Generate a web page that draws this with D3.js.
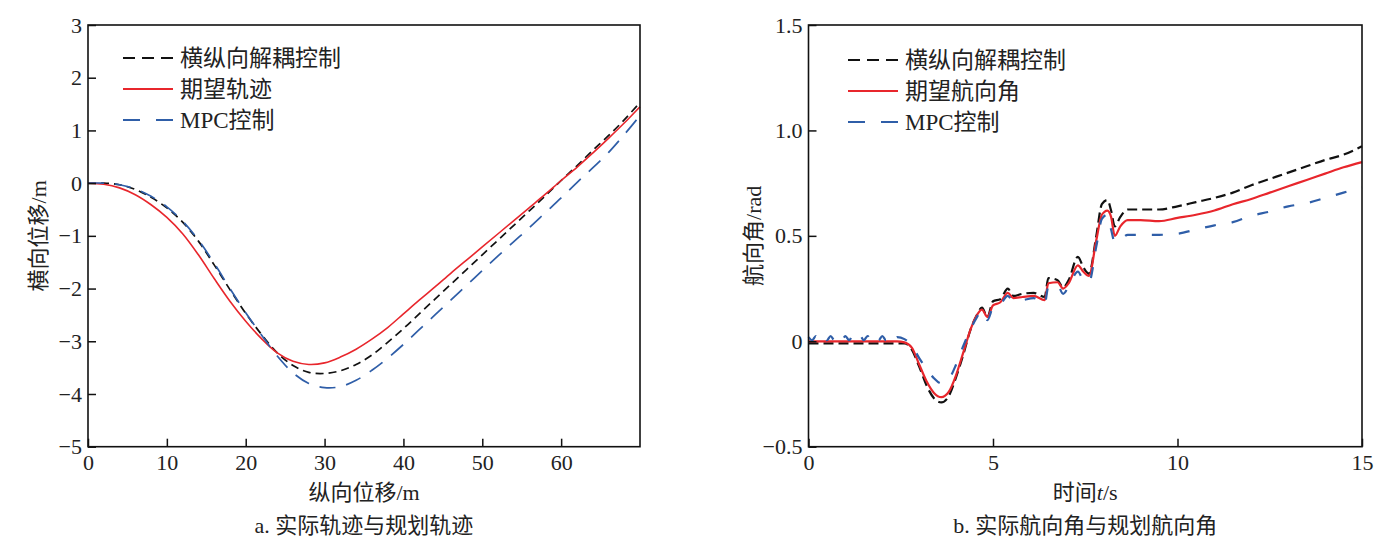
<!DOCTYPE html>
<html lang="zh">
<head>
<meta charset="UTF-8">
<title>轨迹与航向角</title>
<script src="https://d3js.org/d3.v7.min.js"></script>
<style>
    body {margin: 0; background: #fff;}
    text {
        font-family: "Liberation Serif", "Noto Sans CJK SC", serif;
        fill: #222;
    }
</style>
</head>
<body>
<script>
    const width = 1386;
    const height = 546;

    // ---- panel a: lateral vs longitudinal displacement ----
    const trackX = [0, 2, 4, 6, 8, 10, 12, 14, 16, 18, 20, 22, 24, 26, 28, 30, 32, 34,
                    36, 38, 40, 42, 44, 46, 48, 50, 52, 54, 56, 58, 60, 62, 64, 66, 68, 70];
    const trackDecoupled = [0, 0, -0.03, -0.12, -0.27, -0.47, -0.74, -1.10, -1.55, -2.02, -2.47, -2.87,
                    -3.22, -3.46, -3.59, -3.61, -3.56, -3.44, -3.26, -3.02, -2.76, -2.48, -2.20, -1.92,
                    -1.64, -1.36, -1.08, -0.80, -0.52, -0.24, 0.05, 0.33, 0.62, 0.90, 1.20, 1.53];
    const trackDesired = [0, -0.02, -0.09, -0.22, -0.41, -0.65, -0.96, -1.36, -1.81, -2.24, -2.62, -2.95,
                    -3.22, -3.38, -3.44, -3.41, -3.30, -3.15, -2.96, -2.74, -2.48, -2.22, -1.97, -1.71,
                    -1.46, -1.21, -0.96, -0.71, -0.46, -0.21, 0.05, 0.30, 0.57, 0.85, 1.14, 1.45];
    const trackMPC = [0, 0, -0.03, -0.11, -0.25, -0.45, -0.72, -1.08, -1.52, -2.00, -2.46, -2.88,
                    -3.28, -3.60, -3.80, -3.88, -3.86, -3.74, -3.55, -3.32, -3.06, -2.78, -2.50, -2.22,
                    -1.94, -1.66, -1.38, -1.11, -0.84, -0.56, -0.28, 0.01, 0.29, 0.58, 0.92, 1.28];
    const trackXTicks = [0, 10, 20, 30, 40, 50, 60];
    const trackYTicks = [-5, -4, -3, -2, -1, 0, 1, 2, 3];

    // ---- panel b: heading angle vs time ----
    const headT = [0, 2.4, 2.6, 2.8, 3.0, 3.2, 3.4, 3.6, 3.8, 4.0, 4.2, 4.4, 4.55, 4.7, 4.85, 5.0,
                   5.2, 5.4, 5.55, 5.8, 6.1, 6.4, 6.5, 6.75, 6.9, 7.05, 7.3, 7.45, 7.6, 7.8, 7.95,
                   8.1, 8.2, 8.3, 8.45, 8.65, 9.0, 9.5, 10, 10.5, 11, 11.5, 12, 12.5, 13, 13.5, 14, 14.5, 15];
    const headDecoupled = [-0.01, -0.01, -0.01, -0.04, -0.12, -0.21, -0.27, -0.29, -0.26, -0.17, -0.06,
                   0.06, 0.12, 0.16, 0.115, 0.19, 0.20, 0.25, 0.215, 0.225, 0.23, 0.21, 0.30, 0.29,
                   0.255, 0.29, 0.40, 0.35, 0.32, 0.50, 0.65, 0.67, 0.62, 0.545, 0.59, 0.625, 0.625,
                   0.625, 0.64, 0.66, 0.68, 0.705, 0.74, 0.77, 0.80, 0.83, 0.86, 0.885, 0.925];
    const headDesired = [0, 0, -0.005, -0.03, -0.11, -0.19, -0.245, -0.265, -0.24, -0.16, -0.05,
                   0.06, 0.12, 0.15, 0.115, 0.17, 0.185, 0.23, 0.205, 0.21, 0.215, 0.195, 0.275, 0.28,
                   0.25, 0.275, 0.36, 0.33, 0.31, 0.48, 0.60, 0.62, 0.59, 0.50, 0.545, 0.575, 0.575,
                   0.57, 0.585, 0.60, 0.62, 0.65, 0.675, 0.705, 0.735, 0.765, 0.795, 0.825, 0.85];
    // MPC has a fast chatter before the turn starts
    const headMPCT = [0, 0.1, 0.2, 0.3, 0.4, 0.5, 0.6, 0.7, 0.8, 0.9, 1.0, 1.1, 1.2, 1.3, 1.4, 1.5,
                   1.6, 1.7, 1.8, 1.9, 2.0, 2.1, 2.2, 2.3, 2.4, 2.6, 2.8, 3.0, 3.2, 3.4, 3.6, 3.8, 4.0,
                   4.2, 4.4, 4.55, 4.7, 4.85, 5.0, 5.2, 5.4, 5.55, 5.8, 6.1, 6.4, 6.5, 6.75, 6.9, 7.05,
                   7.3, 7.45, 7.6, 7.8, 7.95, 8.1, 8.2, 8.3, 8.45, 8.65, 9.0, 9.5, 10, 10.5, 11, 11.5,
                   12, 12.5, 13, 13.5, 14, 14.5, 15];
    const headMPC = [0.02, 0.005, 0.025, 0.005, 0.025, 0.005, 0.025, 0.005, 0.025, 0.005, 0.025, 0.005,
                   0.025, 0.005, 0.025, 0.005, 0.025, 0.005, 0.025, 0.005, 0.025, 0.005, 0.025, 0.005,
                   0.02, 0.01, -0.02, -0.08, -0.13, -0.175, -0.20, -0.18, -0.11, -0.02, 0.06, 0.11,
                   0.145, 0.10, 0.16, 0.175, 0.215, 0.19, 0.195, 0.205, 0.175, 0.26, 0.265, 0.225,
                   0.26, 0.33, 0.29, 0.28, 0.45, 0.58, 0.60, 0.53, 0.47, 0.48, 0.505, 0.505, 0.505,
                   0.51, 0.53, 0.55, 0.565, 0.595, 0.615, 0.64, 0.655, 0.68, 0.705, 0.73];
    const headXTicks = [0, 5, 10, 15];
    const headYTicks = [-0.5, 0, 0.5, 1.0, 1.5];

    const black = "#111";
    const red = "#e8262c";
    const blue = "#2f5ea8";

    const svg = d3.select("body").append("svg")
        .attr("width", width).attr("height", height);

    const minus = v => (v < 0 ? "\u2212" : "") + Math.abs(v);

    function panel(cfg) {
        const x = d3.scaleLinear().domain(cfg.xDomain).range([cfg.left, cfg.right]);
        const y = d3.scaleLinear().domain(cfg.yDomain).range([cfg.bottom, cfg.top]);
        const g = svg.append("g");

        // curves
        const line = d3.line()
            .x(d => x(d[0])).y(d => y(d[1]))
            .curve(cfg.curve);
        cfg.series.forEach(s => {
            g.append("path")
                .datum(s.xs.map((v, i) => [v, s.ys[i]]))
                .attr("d", line)
                .attr("fill", "none")
                .attr("stroke", s.color)
                .attr("stroke-width", s.width)
                .attr("stroke-dasharray", s.dash);
        });

        // axes with inward ticks
        const ax = g.append("g")
            .attr("transform", `translate(0,${cfg.bottom})`)
            .call(d3.axisBottom(x).tickValues(cfg.xTicks).tickSize(-8).tickPadding(8)
                .tickFormat(cfg.xFormat));
        const ay = g.append("g")
            .attr("transform", `translate(${cfg.left},0)`)
            .call(d3.axisLeft(y).tickValues(cfg.yTicks).tickSize(-8).tickPadding(6)
                .tickFormat(cfg.yFormat));
        [ax, ay].forEach(a => {
            a.select(".domain").remove();
            a.selectAll(".tick line").attr("stroke", "#111").attr("stroke-width", 1.5);
            a.selectAll(".tick text").style("font-size", "22px").attr("fill", "#222");
        });

        // frame
        g.append("rect")
            .attr("x", cfg.left).attr("y", cfg.top)
            .attr("width", cfg.right - cfg.left).attr("height", cfg.bottom - cfg.top)
            .attr("fill", "none").attr("stroke", "#111").attr("stroke-width", 1.6);

        // legend
        cfg.series.forEach((s, i) => {
            const ly = cfg.legendY + i * 31;
            g.append("line")
                .attr("x1", cfg.legendX).attr("x2", cfg.legendX + 50)
                .attr("y1", ly).attr("y2", ly)
                .attr("stroke", s.color).attr("stroke-width", 2)
                .attr("stroke-dasharray", s.legendDash);
            g.append("text")
                .attr("x", cfg.legendX + 57).attr("y", ly + 8)
                .style("font-size", "23px")
                .text(s.name);
        });

        const cx = (cfg.left + cfg.right) / 2;
        // y label
        g.append("text")
            .attr("transform", `translate(${cfg.left - cfg.yLabelGap},${(cfg.top + cfg.bottom) / 2}) rotate(-90)`)
            .attr("text-anchor", "middle")
            .style("font-size", "22px")
            .text(cfg.yLabel);
        // x label
        const xl = g.append("text")
            .attr("x", cx).attr("y", 500)
            .attr("text-anchor", "middle")
            .style("font-size", "22px");
        cfg.xLabel.forEach(p => xl.append("tspan").attr("font-style", p.italic ? "italic" : null).text(p.t));
        // caption
        g.append("text")
            .attr("x", cx).attr("y", 533)
            .attr("text-anchor", "middle")
            .style("font-size", "22px")
            .text(cfg.caption);
    }

    panel({
        left: 88, right: 640, top: 25, bottom: 446.7,
        xDomain: [0, 70], yDomain: [-5, 3],
        xTicks: trackXTicks, yTicks: trackYTicks,
        xFormat: d => d, yFormat: minus,
        curve: d3.curveCatmullRom,
        legendX: 123, legendY: 58,
        yLabel: "横向位移/m", yLabelGap: 42,
        xLabel: [{t: "纵向位移/m"}],
        caption: "a. 实际轨迹与规划轨迹",
        series: [
            {name: "横纵向解耦控制", xs: trackX, ys: trackDecoupled, color: black, width: 1.7, dash: "8,5", legendDash: "12,7"},
            {name: "期望轨迹", xs: trackX, ys: trackDesired, color: red, width: 1.6, dash: null, legendDash: null},
            {name: "MPC控制", xs: trackX, ys: trackMPC, color: blue, width: 1.7, dash: "16,11", legendDash: "17,16"}
        ]
    });

    panel({
        left: 808.5, right: 1362, top: 25, bottom: 446.7,
        xDomain: [0, 15], yDomain: [-0.5, 1.5],
        xTicks: headXTicks, yTicks: headYTicks,
        xFormat: d => d,
        yFormat: d => d === 0 ? "0" : (d < 0 ? "\u2212" : "") + Math.abs(d).toFixed(1),
        curve: d3.curveMonotoneX,
        legendX: 848, legendY: 60,
        yLabel: "航向角/rad", yLabelGap: 48,
        xLabel: [{t: "时间"}, {t: "t", italic: true}, {t: "/s"}],
        caption: "b. 实际航向角与规划航向角",
        series: [
            {name: "横纵向解耦控制", xs: headT, ys: headDecoupled, color: black, width: 2.2, dash: "10,5", legendDash: "12,7"},
            {name: "期望航向角", xs: headT, ys: headDesired, color: red, width: 2.2, dash: null, legendDash: null},
            {name: "MPC控制", xs: headMPCT, ys: headMPC, color: blue, width: 2.2, dash: "11,16", legendDash: "17,16"}
        ]
    });
</script>
</body>
</html>
